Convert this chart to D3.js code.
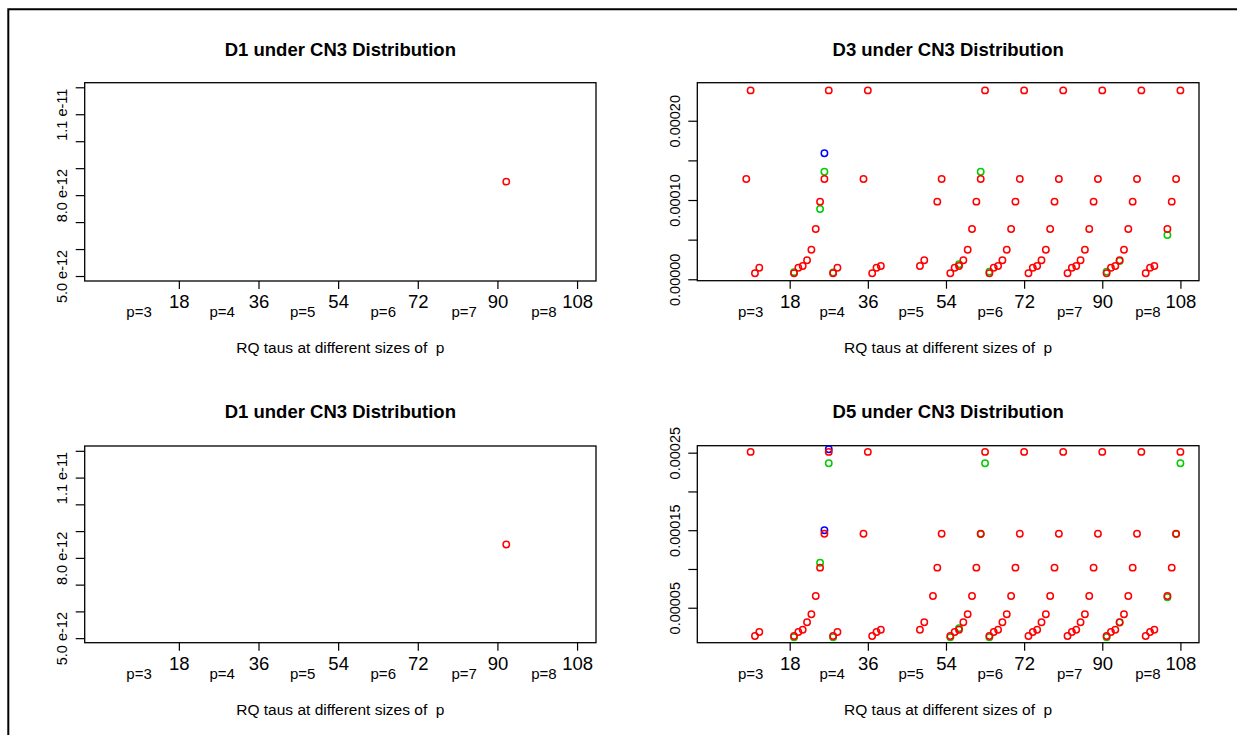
<!DOCTYPE html>
<html><head><meta charset="utf-8">
<script src="https://cdn.jsdelivr.net/npm/d3@7"></script>
<style>
body{margin:0;background:#fff}
svg{display:block}
text{font-family:"Liberation Sans",Arial,Helvetica,sans-serif;fill:#000;white-space:pre}
</style>
</head><body>
<svg id="chart" width="1237" height="735"></svg>
<script>
// ---------- data ----------
const xTicks = [18, 36, 54, 72, 90, 108];
const groupLabels = ["p=3", "p=4", "p=5", "p=6", "p=7", "p=8"];
const groupCenters = [9, 27.8, 46, 64.2, 82.5, 100.5];
const xLabel = "RQ taus at different sizes of  p";
const titles = ["D1 under CN3 Distribution", "D3 under CN3 Distribution",
                "D1 under CN3 Distribution", "D5 under CN3 Distribution"];

// D1 panels (both rows)
const d1Ticks = [5e-12, 6e-12, 7e-12, 8e-12, 9e-12, 10e-12, 11e-12, 12e-12];
const d1TickLabels = ["5.0 e-12", "", "", "8.0 e-12", "", "", "1.1 e-11", ""];
const d1Red = [[92, 8.5e-12]];

// D3 panel
const d3Ticks = [0, 0.00005, 0.0001, 0.00015, 0.0002];
const d3TickLabels = ["0.00000", "", "0.00010", "", "0.00020"];
const d3Red = [
  [8, 1.265e-4], [9, 2.383e-4], [10, 7.6e-6], [11, 1.46e-5],
  [19, 7.6e-6], [20, 1.46e-5], [21, 1.68e-5], [22, 2.4e-5], [23, 3.73e-5], [24, 6.34e-5], [25, 9.79e-5], [26, 1.265e-4], [27, 2.383e-4],
  [28, 7.6e-6], [29, 1.46e-5], [35, 1.265e-4], [36, 2.383e-4],
  [37, 7.6e-6], [38, 1.46e-5], [39, 1.68e-5],
  [48, 1.68e-5], [49, 2.4e-5], [52, 9.79e-5], [53, 1.265e-4],
  [55, 7.6e-6], [56, 1.46e-5], [57, 1.68e-5], [58, 2.4e-5], [59, 3.73e-5], [60, 6.34e-5], [61, 9.79e-5], [62, 1.265e-4], [63, 2.383e-4],
  [64, 7.6e-6], [65, 1.46e-5], [66, 1.68e-5], [67, 2.4e-5], [68, 3.73e-5], [69, 6.34e-5], [70, 9.79e-5], [71, 1.265e-4], [72, 2.383e-4],
  [73, 7.6e-6], [74, 1.46e-5], [75, 1.68e-5], [76, 2.4e-5], [77, 3.73e-5], [78, 6.34e-5], [79, 9.79e-5], [80, 1.265e-4], [81, 2.383e-4],
  [82, 7.6e-6], [83, 1.46e-5], [84, 1.68e-5], [85, 2.4e-5], [86, 3.73e-5], [87, 6.34e-5], [88, 9.79e-5], [89, 1.265e-4], [90, 2.383e-4],
  [91, 7.6e-6], [92, 1.46e-5], [93, 1.68e-5], [94, 2.4e-5], [95, 3.73e-5], [96, 6.34e-5], [97, 9.79e-5], [98, 1.265e-4], [99, 2.383e-4],
  [100, 7.6e-6], [101, 1.46e-5], [102, 1.68e-5], [105, 6.34e-5], [106, 9.79e-5], [107, 1.265e-4], [108, 2.383e-4]
];
const d3Green = [[19, 9e-6], [25, 8.87e-5], [26, 1.357e-4], [28, 8.5e-6], [57, 1.89e-5],
                 [62, 1.357e-4], [64, 9.6e-6], [91, 9.6e-6], [94, 2.3e-5], [105, 5.59e-5]];
const d3Blue = [[26, 1.589e-4]];

// D5 panel
const d5Ticks = [0.00005, 0.0001, 0.00015, 0.0002, 0.00025];
const d5TickLabels = ["0.00005", "", "0.00015", "", "0.00025"];
const d5Red = [
  [9, 2.51e-4], [10, 1.35e-5], [11, 1.87e-5],
  [19, 1.35e-5], [20, 1.87e-5], [21, 2.17e-5], [22, 3.12e-5], [23, 4.15e-5], [24, 6.52e-5], [25, 1.017e-4], [26, 1.455e-4], [27, 2.51e-4],
  [28, 1.35e-5], [29, 1.87e-5], [35, 1.455e-4], [36, 2.51e-4],
  [37, 1.35e-5], [38, 1.87e-5], [39, 2.17e-5],
  [48, 2.17e-5], [49, 3.12e-5], [51, 6.52e-5], [52, 1.017e-4], [53, 1.455e-4],
  [55, 1.35e-5], [56, 1.87e-5], [57, 2.17e-5], [58, 3.12e-5], [59, 4.15e-5], [60, 6.52e-5], [61, 1.017e-4], [62, 1.455e-4], [63, 2.51e-4],
  [64, 1.35e-5], [65, 1.87e-5], [66, 2.17e-5], [67, 3.12e-5], [68, 4.15e-5], [69, 6.52e-5], [70, 1.017e-4], [71, 1.455e-4], [72, 2.51e-4],
  [73, 1.35e-5], [74, 1.87e-5], [75, 2.17e-5], [76, 3.12e-5], [77, 4.15e-5], [78, 6.52e-5], [79, 1.017e-4], [80, 1.455e-4], [81, 2.51e-4],
  [82, 1.35e-5], [83, 1.87e-5], [84, 2.17e-5], [85, 3.12e-5], [86, 4.15e-5], [87, 6.52e-5], [88, 1.017e-4], [89, 1.455e-4], [90, 2.51e-4],
  [91, 1.35e-5], [92, 1.87e-5], [93, 2.17e-5], [94, 3.12e-5], [95, 4.15e-5], [96, 6.52e-5], [97, 1.017e-4], [98, 1.455e-4], [99, 2.51e-4],
  [100, 1.35e-5], [101, 1.87e-5], [102, 2.17e-5], [105, 6.52e-5], [106, 1.017e-4], [107, 1.455e-4], [108, 2.51e-4]
];
const d5Green = [[19, 1.2e-5], [25, 1.081e-4], [27, 2.364e-4], [28, 1.2e-5], [55, 1.2e-5], [57, 2.35e-5],
                 [62, 1.45e-4], [63, 2.364e-4], [64, 1.2e-5], [91, 1.2e-5], [94, 3.1e-5], [105, 6.35e-5],
                 [107, 1.45e-4], [108, 2.364e-4]];
const d5Blue = [[26, 1.5e-4], [27, 2.545e-4]];

// ---------- layout ----------
const xDomain = [-3.28, 112.28];
const panels = [
  {title: titles[0], box: [84.7, 596, 82.7, 281], yDom: [4.815e-12, 12.17e-12], titleY: 49.5,
   ticks: d1Ticks, labels: d1TickLabels, blue: [], green: [], red: d1Red},
  {title: titles[1], box: [697.3, 1199, 82.7, 280.7], yDom: [-1.8e-6, 2.48e-4], titleY: 49.5,
   ticks: d3Ticks, labels: d3TickLabels, blue: d3Blue, green: d3Green, red: d3Red},
  {title: titles[2], box: [84.7, 596, 446, 642.7], yDom: [4.83e-12, 12.18e-12], titleY: 411.5,
   ticks: d1Ticks, labels: d1TickLabels, blue: [], green: [], red: d1Red},
  {title: titles[3], box: [697.3, 1199, 445.7, 642.7], yDom: [4.9e-6, 2.59e-4], titleY: 411.5,
   ticks: d5Ticks, labels: d5TickLabels, blue: d5Blue, green: d5Green, red: d5Red}
];

const svg = d3.select("#chart");
svg.append("rect").attr("width", 1237).attr("height", 735).attr("fill", "#fff");
// outer frame
svg.append("path").attr("d", "M8.3,735V9.3H1237").attr("fill", "none")
   .attr("stroke", "#000").attr("stroke-width", 2);

panels.forEach(p => {
  const [x0, x1, y0, y1] = p.box;
  const x = d3.scaleLinear().domain(xDomain).range([x0, x1]);
  const y = d3.scaleLinear().domain(p.yDom).range([y1, y0]);
  const g = svg.append("g");

  // title
  g.append("text").attr("x", (x0 + x1) / 2).attr("y", p.titleY).attr("dy", "0.35em")
   .attr("text-anchor", "middle").attr("font-weight", "bold").attr("font-size", 18.5)
   .text(p.title);

  // x axis
  const xa = g.append("g").attr("transform", `translate(0,${y1})`)
    .call(d3.axisBottom(x).tickValues(xTicks).tickSize(8).tickFormat(d3.format("d")));
  xa.select(".domain").remove();
  xa.selectAll(".tick line").attr("stroke", "#000").attr("stroke-width", 1.2);
  xa.selectAll(".tick text").attr("y", 20.5).attr("dy", "0.35em")
    .attr("font-size", 18.5).attr("font-family", "Liberation Sans, Arial, sans-serif");

  // group labels
  g.selectAll(".grp").data(groupLabels).join("text")
   .attr("x", (d, i) => x(groupCenters[i])).attr("y", y1 + 31).attr("dy", "0.35em")
   .attr("text-anchor", "middle").attr("font-size", 15).text(d => d);

  // x label
  g.append("text").attr("x", (x0 + x1) / 2).attr("y", y1 + 66.5).attr("dy", "0.35em")
   .attr("text-anchor", "middle").attr("font-size", 15.5).text(xLabel);

  // y axis
  const ya = g.append("g").attr("transform", `translate(${x0},0)`)
    .call(d3.axisLeft(y).tickValues(p.ticks).tickSize(9).tickFormat((d, i) => p.labels[i]));
  ya.select(".domain").remove();
  ya.selectAll(".tick line").attr("stroke", "#000").attr("stroke-width", 1.2);
  ya.selectAll(".tick text").attr("x", null).attr("dy", null)
    .attr("transform", "translate(-22.5,0) rotate(-90)")
    .attr("text-anchor", "middle").attr("dy", "0.35em")
    .attr("font-size", 14.5).attr("font-family", "Liberation Sans, Arial, sans-serif");

  // box
  g.append("rect").attr("x", x0).attr("y", y0).attr("width", x1 - x0).attr("height", y1 - y0)
   .attr("fill", "none").attr("stroke", "#000").attr("stroke-width", 1.3);

  // points: blue, green, red (red on top)
  [[p.blue, "#0000FF"], [p.green, "#00CD00"], [p.red, "#FF0000"]].forEach(([data, col]) => {
    g.append("g").selectAll("circle").data(data).join("circle")
     .attr("cx", d => x(d[0])).attr("cy", d => y(d[1])).attr("r", 3.2)
     .attr("fill", "none").attr("stroke", col).attr("stroke-width", 1.5);
  });
});
</script>
</body></html>
